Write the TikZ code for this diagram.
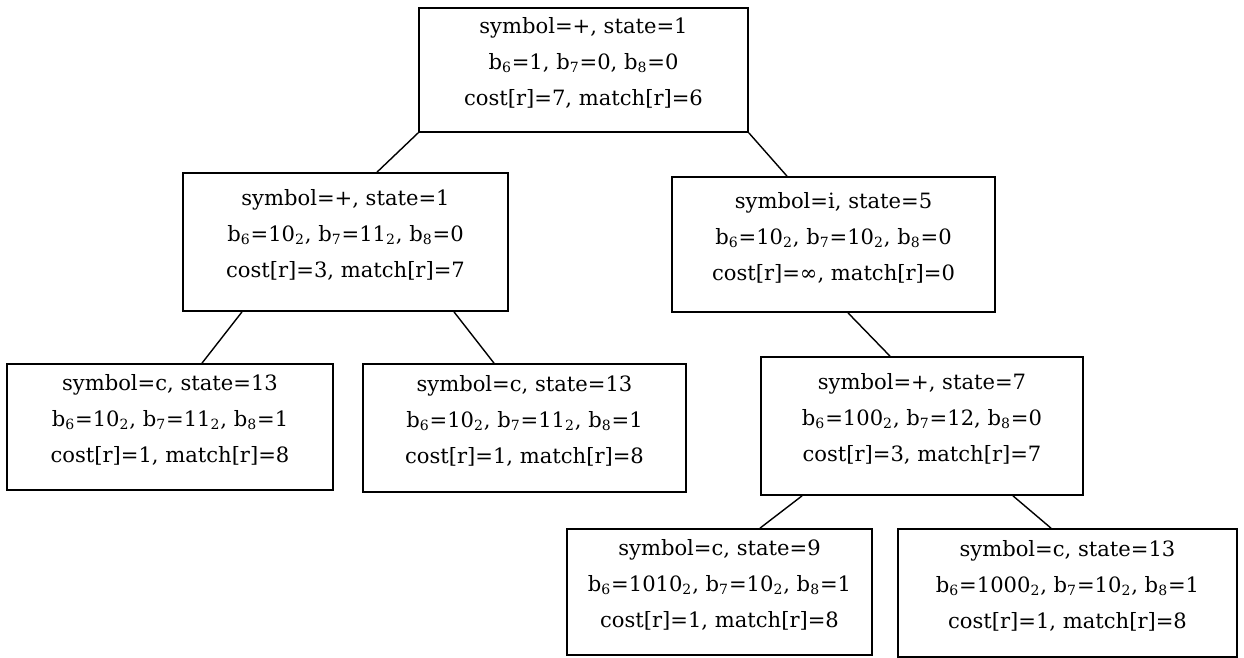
\documentclass[tikz,border=0pt]{standalone}
\usepackage{fontspec}
\setmainfont{DejaVu Serif}
\usetikzlibrary{calc, positioning}
\tikzset{%
  % Specifications for style of nodes:
            cell/.style = {rectangle, draw=black, line width=1pt,
                            fill=white, align=center, inner sep=0pt,
                            font=\fontsize{12}{20.5}\selectfont},
            edge/.style = {draw=black, line width=0.8pt}
}
\newcommand{\bv}[2]{b\textsubscript{#1}=#2}
\newcommand{\cellrows}[3]{#1\\#2\\#3\\[-11pt]\mbox{}}

\begin{document}
\begin{tikzpicture}[x=0.02cm, y=-0.02cm]
                \useasboundingbox (0,0) rectangle (1244,657);

                \node[cell, minimum width=6.58cm, minimum height=2.48cm] (root) at (583.5,70)
                    {\cellrows{symbol=+, state=1}{\bv{6}{1}, \bv{7}{0}, \bv{8}{0}}{cost[r]=7, match[r]=6}};

                \node[cell, minimum width=6.50cm, minimum height=2.76cm] (plus1) at (345.5,242)
                    {\cellrows{symbol=+, state=1}{\bv{6}{10\textsubscript{2}}, \bv{7}{11\textsubscript{2}}, \bv{8}{0}}{cost[r]=3, match[r]=7}};
                \node[cell, minimum width=6.46cm, minimum height=2.70cm] (isym5) at (833.5,244.5)
                    {\cellrows{symbol=i, state=5}{\bv{6}{10\textsubscript{2}}, \bv{7}{10\textsubscript{2}}, \bv{8}{0}}{cost[r]=∞, match[r]=0}};

                \node[cell, minimum width=6.52cm, minimum height=2.52cm] (csym13a) at (170,427)
                    {\cellrows{symbol=c, state=13}{\bv{6}{10\textsubscript{2}}, \bv{7}{11\textsubscript{2}}, \bv{8}{1}}{cost[r]=1, match[r]=8}};
                \node[cell, minimum width=6.46cm, minimum height=2.56cm] (csym13b) at (524.5,428)
                    {\cellrows{symbol=c, state=13}{\bv{6}{10\textsubscript{2}}, \bv{7}{11\textsubscript{2}}, \bv{8}{1}}{cost[r]=1, match[r]=8}};
                \node[cell, minimum width=6.44cm, minimum height=2.76cm] (plus7) at (922,426)
                    {\cellrows{symbol=+, state=7}{\bv{6}{100\textsubscript{2}}, \bv{7}{12}, \bv{8}{0}}{cost[r]=3, match[r]=7}};

                \node[cell, minimum width=6.10cm, minimum height=2.52cm] (csym9) at (719.5,592)
                    {\cellrows{symbol=c, state=9}{\bv{6}{1010\textsubscript{2}}, \bv{7}{10\textsubscript{2}}, \bv{8}{1}}{cost[r]=1, match[r]=8}};
                \node[cell, minimum width=6.78cm, minimum height=2.56cm] (csym13c) at (1067.5,593)
                    {\cellrows{symbol=c, state=13}{\bv{6}{1000\textsubscript{2}}, \bv{7}{10\textsubscript{2}}, \bv{8}{1}}{cost[r]=1, match[r]=8}};

                \draw[edge] (root.south west) -- ($(plus1.north)+(31.5,0)$);
                \draw[edge] (root.south east) -- ($(isym5.north)+(-46.5,0)$);
                \draw[edge] ($(plus1.south)+(-103.5,0)$) -- ($(csym13a.north)+(32,0)$);
                \draw[edge] ($(plus1.south)+(108.5,0)$) -- ($(csym13b.north)+(-30.5,0)$);
                \draw[edge] ($(isym5.south)+(14.5,0)$) -- ($(plus7.north)+(-32,0)$);
                \draw[edge] ($(plus7.south)+(-120,0)$) -- ($(csym9.north)+(40.5,0)$);
                \draw[edge] ($(plus7.south)+(91,0)$) -- ($(csym13c.north)+(-16.5,0)$);

            \end{tikzpicture}
\end{document}
